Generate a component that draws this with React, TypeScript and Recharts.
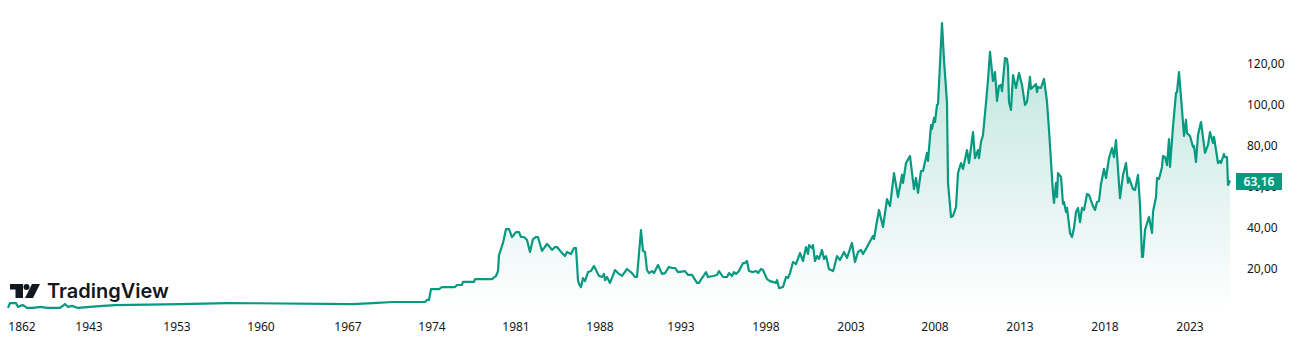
import React from 'react';
import { AreaChart, Area, XAxis, YAxis } from 'recharts';

// position along the compressed time axis (evenly spaced bars, years are not linear)
const barPositions = [
  0, 2, 5, 8, 10, 12, 15, 19, 25, 33, 39, 52, 57, 60, 64, 70, 82, 95, 107, 172, 219, 345, 365, 385, 417, 419, 421, 423,
  431, 434, 447, 449, 454, 455, 466, 467, 484, 488, 490, 491, 495, 498, 501, 504, 508, 511, 513, 516, 519, 522, 525, 528, 530, 534, 539, 541, 544, 547, 549, 554, 557, 559, 563, 566, 568,
  570, 571, 573, 575, 577, 580, 583, 586, 588, 591, 594, 596, 597, 599, 602, 607, 610, 614, 619, 624, 627, 629, 633, 635, 637, 639, 641, 644, 646, 650, 654, 657, 661, 664, 667, 670, 677, 680, 684, 689, 691, 694, 698, 700, 705, 709, 711, 715, 719, 721, 724, 726, 728, 731, 735, 737, 739, 741, 745, 748, 750, 753, 755, 759, 762, 765, 768, 769, 771, 775, 778, 780,
  782, 785, 788, 792, 795, 798, 800, 801, 804, 805, 807, 809, 811, 814, 816, 818, 821, 825, 826, 829, 832, 836, 839, 844, 847, 850, 853, 855, 858, 860, 865, 866, 868, 871, 875, 879, 882, 886, 890, 894, 895, 898, 902, 906, 908, 910, 913, 915, 919, 920, 923, 924, 926, 927, 929, 930, 934, 936, 939, 940, 943, 945, 948,
  950, 953, 955, 959, 961, 965, 967, 970, 971, 973, 975, 978, 980, 982, 985, 987, 989, 991, 993, 994, 997, 999, 1000, 1001, 1003, 1005, 1008, 1011, 1014, 1017, 1019, 1022, 1023, 1026, 1028, 1029, 1030, 1033, 1036, 1039, 1041, 1045, 1046, 1048, 1049, 1050, 1053, 1055, 1056, 1058, 1059, 1062, 1064, 1066, 1068, 1070, 1072, 1074, 1076, 1079, 1081, 1085, 1087, 1089, 1091, 1093, 1096, 1098, 1101, 1104, 1106, 1108,
  1112, 1115, 1118, 1120, 1121, 1125, 1127, 1130, 1132, 1134, 1135, 1137, 1141, 1144, 1145, 1148, 1149, 1151, 1154, 1155, 1157, 1159, 1161, 1162, 1165, 1168, 1169, 1171, 1173, 1176, 1178, 1179, 1182, 1185, 1186, 1188, 1190, 1193, 1197, 1200, 1202, 1205, 1206, 1210, 1212, 1213, 1216, 1217, 1219, 1220, 1222,
];

const prices = [
  1.0, 3.4, 3.4, 3.4, 1.5, 2.0, 2.4, 1.0, 1.0, 1.5, 1.0, 1.0, 2.9, 1.5, 2.0, 1.0, 1.5, 2.0, 2.4, 2.9, 3.4, 2.9, 3.4, 3.9, 3.9, 4.9, 4.9, 10.2,
  10.2, 11.2, 11.2, 12.2, 12.2, 13.7, 13.7, 15.1, 15.1, 16.6, 19.0, 26.8, 32.7, 39.5, 39.5, 35.6, 38.0, 38.0, 35.6, 35.6, 34.1, 28.3, 34.6, 35.6, 35.6, 28.8, 32.2, 31.2, 29.3, 30.7, 30.7, 27.8, 26.3, 28.3, 27.3, 30.2, 30.2,
  14.6, 12.7, 11.2, 15.6, 14.1, 18.5, 19.0, 21.5, 19.5, 16.6, 16.1, 17.6, 14.6, 16.1, 13.2, 19.5, 18.0, 16.6, 20.0, 18.0, 16.1, 16.1, 39.0, 28.8, 28.3, 19.5, 18.0, 19.0, 18.0, 22.0, 17.6, 18.0, 21.0, 20.5, 20.5, 18.5, 19.0, 17.1, 17.1, 13.2, 13.2, 15.6, 18.5, 16.1, 16.6, 17.1, 19.0, 16.1, 16.1, 18.0, 16.6, 18.5, 17.6, 19.0, 22.9, 22.9, 23.9, 19.0, 18.5, 19.0, 18.0, 20.0, 19.5, 15.1, 14.1, 13.7, 13.2, 14.6, 10.7, 11.2, 16.1, 15.6,
  18.0, 23.4, 22.4, 27.8, 23.9, 30.7, 27.3, 31.7, 30.2, 31.7, 23.9, 26.3, 24.9, 29.3, 24.9, 26.3, 20.0, 19.0, 20.5, 26.3, 24.4, 28.3, 25.4, 32.7, 23.4, 28.3, 29.3, 27.3, 29.8, 31.7, 36.1, 34.6, 40.5, 48.8, 40.5, 54.1, 50.7, 66.8, 55.1, 65.9, 62.0, 71.7, 75.1, 59.0, 64.4, 57.1, 67.8, 67.8, 76.6, 72.7, 90.2, 88.3, 93.7, 91.7, 100.0, 100.5, 140.0, 122.0, 101.0, 62.0, 45.4, 45.9, 50.2,
  66.8, 71.7, 68.8, 78.0, 71.7, 86.8, 74.1, 78.0, 74.1, 82.0, 85.4, 101.0, 112.2, 125.9, 111.7, 116.1, 102.0, 109.3, 109.8, 106.8, 122.9, 122.4, 118.5, 101.5, 97.6, 114.6, 108.3, 115.6, 109.8, 100.0, 101.5, 113.7, 107.8, 109.3, 110.2, 106.3, 108.8, 108.3, 112.7, 101.5, 87.8, 57.1, 52.2, 62.0, 55.1, 66.8, 64.9, 51.7, 52.7, 47.8, 49.8, 37.6, 35.6, 40.0, 47.8, 49.8, 42.9, 49.8, 48.8, 56.6, 56.1, 50.7, 48.8, 52.7, 53.2, 61.5, 68.8, 64.4, 74.1, 79.0, 74.6, 82.9,
  54.6, 65.9, 71.7, 62.0, 64.4, 59.0, 58.5, 65.9, 51.2, 25.9, 25.9, 39.0, 45.4, 37.6, 47.8, 55.1, 64.4, 63.9, 69.8, 75.1, 74.6, 70.7, 83.4, 69.8, 89.3, 105.9, 106.3, 116.1, 103.9, 84.9, 92.7, 86.3, 84.9, 79.5, 80.0, 72.2, 85.4, 91.7, 76.6, 80.5, 86.8, 81.5, 84.4, 71.7, 72.7, 71.7, 76.1, 74.6, 74.6, 61.0, 63.16,
];

const yearLabels = ['1862', '1943', '1953', '1960', '1967', '1974', '1981', '1988', '1993', '1998', '2003', '2008', '2013', '2018', '2023'];
const yearPositions = [14, 81, 169, 253, 340, 424, 508, 592, 673, 758, 843, 927, 1012, 1097, 1182];
const priceTicks = [20, 40, 60, 80, 100, 120];
const lastPrice = 63.16;

const chartData = barPositions.map((bar, i) => ({ bar, price: prices[i] }));

const FONT = '"Noto Sans", sans-serif';
const TEXT_COLOR = '#131722';
const GREEN = '#089981';

const formatPrice = (v: number) => v.toFixed(2).replace('.', ',');

const PriceTick = (props: any) => {
  const { y, payload } = props;
  if (payload.value === lastPrice) {
    return (
      <g>
        <rect x={1236} y={y - 7.5} width={46} height={17} fill={GREEN} />
        <text x={1259} y={y + 5} textAnchor="middle" fontFamily={FONT} fontSize={12} fontWeight={600} fill="#fff">
          {formatPrice(lastPrice)}
        </text>
      </g>
    );
  }
  return (
    <text x={1247} y={y + 4} fontFamily={FONT} fontSize={12} fill={TEXT_COLOR}>
      {formatPrice(payload.value)}
    </text>
  );
};

const YearTick = (props: any) => {
  const { x, payload } = props;
  return (
    <text x={x} y={331} textAnchor="middle" fontFamily={FONT} fontSize={12} fill={TEXT_COLOR}>
      {yearLabels[yearPositions.indexOf(payload.value)]}
    </text>
  );
};

const Logo = () => (
  <svg width={170} height={30} style={{ position: 'absolute', left: 0, top: 278 }}>
    <path d="M10 6H23V20H15.5V11.5H10Z" fill="#131722" />
    <circle cx={26.5} cy={9} r={3} fill="#131722" />
    <path d="M32 6H40L33 20H25Z" fill="#131722" />
    <text x={47} y={20} fontFamily="Inter, sans-serif" fontSize={20} fontWeight={600} fill="#131722">
      TradingView
    </text>
  </svg>
);

export default function App() {
  return (
    <div style={{ position: 'absolute', left: 0, top: 0, width: 1303, height: 355, background: '#fff' }}>
      <AreaChart width={1303} height={355} data={chartData} margin={{ top: 2.5, right: 0, bottom: 0, left: 8 }}>
        <defs>
          <linearGradient id="priceFill" x1="0" y1="0" x2="0" y2="1">
            <stop offset="0%" stopColor={GREEN} stopOpacity={0.28} />
            <stop offset="100%" stopColor={GREEN} stopOpacity={0} />
          </linearGradient>
        </defs>
        <XAxis
          dataKey="bar"
          type="number"
          domain={[0, 1222]}
          ticks={yearPositions}
          interval={0}
          axisLine={false}
          tickLine={false}
          height={45}
          tick={YearTick}
        />
        <YAxis
          orientation="right"
          type="number"
          domain={[0, 150]}
          ticks={[...priceTicks, lastPrice]}
          interval={0}
          axisLine={false}
          tickLine={false}
          width={73}
          tick={PriceTick}
        />
        <Area
          type="linear"
          dataKey="price"
          stroke={GREEN}
          strokeWidth={2.2}
          strokeLinejoin="round"
          fill="url(#priceFill)"
          fillOpacity={1}
          dot={false}
          activeDot={false}
          isAnimationActive={false}
        />
      </AreaChart>
      <Logo />
    </div>
  );
}
